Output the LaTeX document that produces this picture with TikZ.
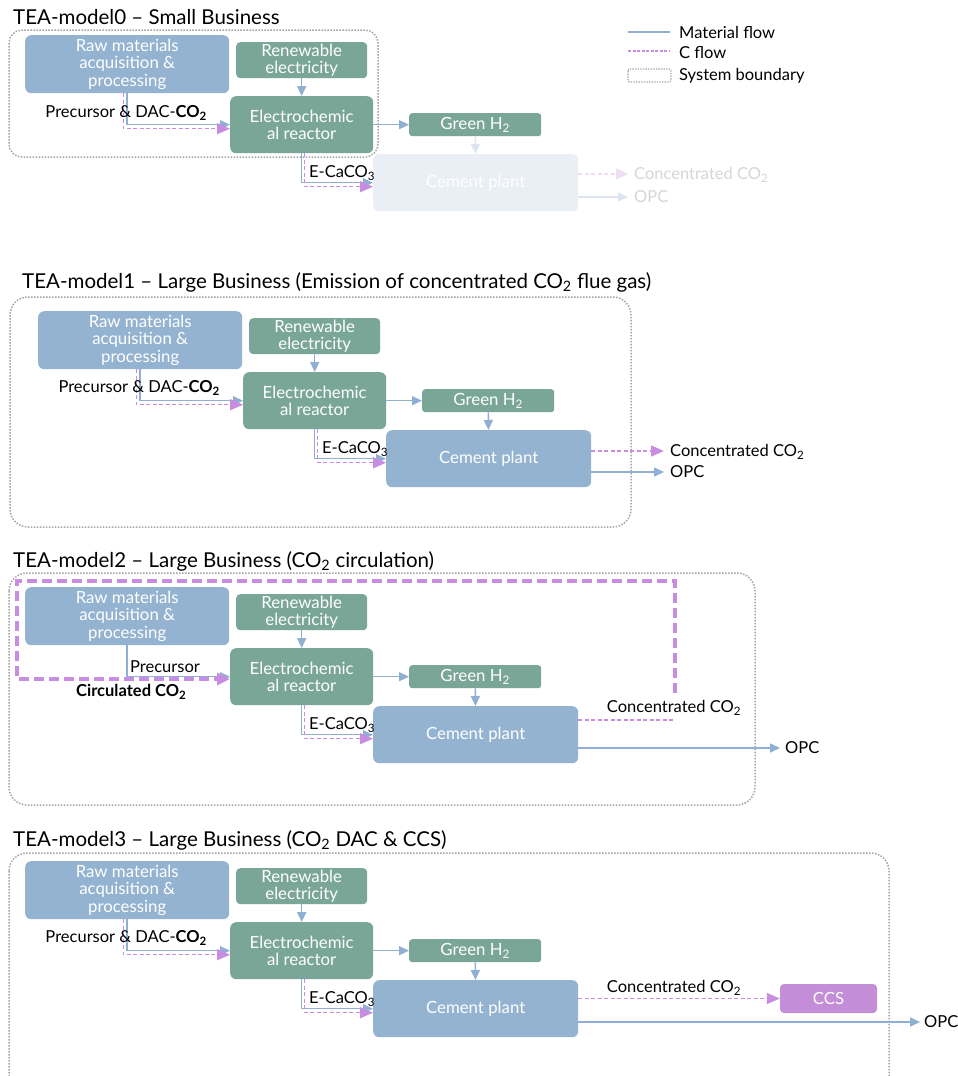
\documentclass[tikz,border=0pt]{standalone}
\usepackage{fontspec}
\setmainfont{Lato}
\usetikzlibrary{arrows.meta,calc}
\definecolor{bboxc}{HTML}{94B3D0}
\definecolor{gboxc}{HTML}{7AA698}
\definecolor{ccsc}{HTML}{C38ED7}
\definecolor{arrb}{HTML}{8FB0D2}
\definecolor{cpur}{HTML}{C88CE1}
\definecolor{bgray}{HTML}{A5A5A5}
\definecolor{fadefill}{HTML}{E9EFF5}
\definecolor{fadearr}{HTML}{DDE6F0}
\definecolor{fadepur}{HTML}{EEDDF5}
\definecolor{fadetxt}{HTML}{D6D6D6}
\tikzset{
  sz/.style 2 args={minimum width=#1, minimum height=#2},
  box/.style={rounded corners=6pt, inner sep=0pt, text=white, align=center,
    font=\fontsize{16.8}{17.5}\selectfont, anchor=north west},
  bluebox/.style={box, fill=bboxc},
  greenbox/.style={box, fill=gboxc},
  fadedbox/.style={box, fill=fadefill},
  ccsbox/.style={box, fill=ccsc, rounded corners=4pt, anchor=center},
  lbl/.style={inner sep=0pt, font=\fontsize{16.5}{18}\selectfont, text=black},
  fadedlbl/.style={lbl, text=fadetxt},
  ttl/.style={inner sep=0pt, anchor=west, font=\fontsize{20.5}{24}\selectfont},
  matflow/.style={draw=arrb, line width=1.5pt, -{Triangle[length=10pt,width=9pt]}},
  fadedm/.style={draw=fadearr, line width=1.5pt, -{Triangle[length=10pt,width=9pt]}},
  cflow/.style={draw=cpur, line width=1.4pt, dash pattern=on 4pt off 2.5pt,
    -{Triangle[length=13pt,width=11pt]}},
  fadedc/.style={draw=fadepur, line width=1.4pt, dash pattern=on 4pt off 2.5pt,
    -{Triangle[length=12pt,width=11pt]}},
  cplain/.style={draw=cpur, line width=1.4pt, dash pattern=on 4pt off 2.5pt},
  cthick/.style={draw=cpur, line width=3.4pt, dash pattern=on 10pt off 5pt,
    -{Triangle[length=13pt,width=12pt]}},
  boundary/.style={draw=bgray, line width=1.5pt, dash pattern=on 1.5pt off 1.5pt, rounded corners=18pt},
}
\newcommand\coremodel[5]{%
\begin{scope}[shift={(#2,#3)}]
 \node[bluebox, sz={204}{58}] (raw#1) at (0,0) {Raw materials\\acquisition \&\\processing};
 \node[greenbox, sz={131}{36}, rounded corners=4pt] (ren#1) at (211,7) {Renewable\\electricity};
 \node[greenbox, sz={143}{57}] (reac#1) at (205,61) {Electrochemic\\al reactor};
 \node[greenbox, sz={132}{23}, rounded corners=3pt] (gh#1) at (384,78) {Green H\textsubscript{2}};
 \node[#4, sz={205}{57}] (cem#1) at (348,119) {Cement plant};
 \draw[matflow] (ren#1) -- (reac#1);
 \draw[matflow] (reac#1) -- (gh#1);
 \draw[#5] (gh#1) -- (cem#1);
 \draw[matflow] (raw#1.south) |- (reac#1.west);
 \draw[matflow] (reac#1.south) |- (cem#1.west);
 \draw[cflow] ([xshift=3pt]reac#1.south) |- ($(cem#1.west)+(0,4)$);
 \node[lbl, anchor=west] (eca#1) at (284,138) {E-CaCO\textsubscript{3}};
\end{scope}}
\begin{document}
\begin{tikzpicture}[x=1pt,y=-1pt]
\fill[white] (0,0) rectangle (958,1076);
\useasboundingbox (0,0) rectangle (958,1076);

% boundaries
\draw[boundary, rounded corners=13pt] (9,30) rectangle (378,157);
\draw[boundary] (10,297) rectangle (631,527);
\draw[boundary] (9,573) rectangle (755,805);
\draw[boundary] (9,853) rectangle (889,1095);

% legend
\coordinate (lga) at (628,32); \coordinate (lgb) at (670,32);
\coordinate (lgc) at (628,51); \coordinate (lgd) at (670,51);
\draw[draw=arrb, line width=1.2pt] (lga) -- (lgb);
\draw[draw=cpur, line width=1.2pt, dash pattern=on 3pt off 1.5pt] (lgc) -- (lgd);
\draw[draw=bgray, line width=1.3pt, dash pattern=on 1.3pt off 1.3pt, rounded corners=2pt] (628,69) rectangle (671,82);
\node[lbl, anchor=west] (lg1) at (679,32) {Material flow};
\node[lbl, anchor=west] (lg2) at (679,53) {C flow};
\node[lbl, anchor=west] (lg3) at (679,76) {System boundary};

% ---------- model 0
\node[ttl] (t0) at (13,17) {TEA-model0 -- Small Business};
\coremodel{0}{25}{35}{fadedbox}{fadedm}
\draw[cflow] ([xshift=-4pt]raw0.south) |- ($(reac0.west)+(0,4)$);
\node[lbl, anchor=east] (pl0) at (207,113) {Precursor \& DAC-\textbf{CO\textsubscript{2}}};
\node[fadedlbl, anchor=west] (conc0) at (634,175) {Concentrated CO\textsubscript{2}};
\node[fadedlbl, anchor=west] (opc0) at (634,197) {OPC};
\draw[fadedc] (cem0.east |- 0,174) -- ([xshift=-6pt]conc0.west |- 0,174);
\draw[fadedm] (cem0.east |- opc0) -- ([xshift=-6pt]opc0.west);

% ---------- model 1
\node[ttl] (t1) at (22,282) {TEA-model1 -- Large Business (Emission of concentrated CO\textsubscript{2} flue gas)};
\coremodel{1}{38}{311}{bluebox}{matflow}
\draw[cflow] ([xshift=-4pt]raw1.south) |- ($(reac1.west)+(0,4)$);
\node[lbl, anchor=east] (pl1) at (220,388) {Precursor \& DAC-\textbf{CO\textsubscript{2}}};
\node[lbl, anchor=west] (conc1) at (670,452) {Concentrated CO\textsubscript{2}};
\node[lbl, anchor=west] (opc1) at (670,472) {OPC};
\draw[cflow] (cem1.east |- 0,451) -- ([xshift=-6pt]conc1.west |- 0,451);
\draw[matflow] (cem1.east |- opc1) -- ([xshift=-6pt]opc1.west);

% ---------- model 2
\node[ttl] (t2) at (13,561) {TEA-model2 -- Large Business (CO\textsubscript{2} circulation)};
\coremodel{2}{25}{587}{bluebox}{matflow}
\node[lbl, anchor=west] (pl2) at (130,667) {Precursor};
\node[lbl, anchor=west] (circ2) at (76,692) {\textbf{Circulated CO\textsubscript{2}}};
\node[lbl] (conc2) at (674,708) {Concentrated CO\textsubscript{2}};
\coordinate (ccend2) at (675,720);
\draw[cplain] (cem2.east |- ccend2) -- (ccend2);
\draw[cthick] (675,693) -- (675,581) -- (17,581) -- (17,679) -- (reac2.west |- 0,679);
\node[lbl, anchor=west] (opc2) at (785,748) {OPC};
\draw[matflow] (cem2.east |- opc2) -- ([xshift=-5pt]opc2.west);

% ---------- model 3
\node[ttl] (t3) at (13,840) {TEA-model3 -- Large Business (CO\textsubscript{2} DAC \& CCS)};
\coremodel{3}{25}{861}{bluebox}{matflow}
\draw[cflow] ([xshift=-4pt]raw3.south) |- ($(reac3.west)+(0,4)$);
\node[lbl, anchor=east] (pl3) at (207,938) {Precursor \& DAC-\textbf{CO\textsubscript{2}}};
\node[ccsbox, sz={97}{29}] (ccs3) at (828.5,998.5) {CCS};
\node[lbl] (conc3) at (674,988) {Concentrated CO\textsubscript{2}};
\draw[cflow] (cem3.east |- ccs3) -- (ccs3.west);
\node[lbl, anchor=west] (opc3) at (924,1022) {OPC};
\draw[matflow] (cem3.east |- opc3) -- ([xshift=-4pt]opc3.west);
\end{tikzpicture}
\end{document}
